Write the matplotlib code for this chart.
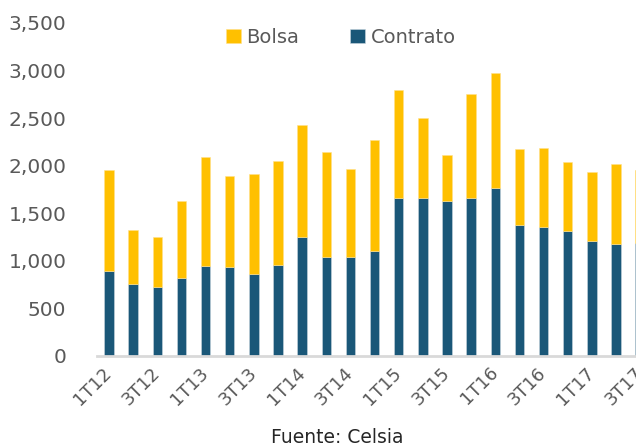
import numpy as np
import matplotlib
matplotlib.use("Agg")
from matplotlib import pyplot as plt

# quarters 1T12 .. 3T17
quarters = ['1T12', '2T12', '3T12', '4T12', '1T13', '2T13', '3T13', '4T13',
            '1T14', '2T14', '3T14', '4T14', '1T15', '2T15', '3T15', '4T15',
            '1T16', '2T16', '3T16', '4T16', '1T17', '2T17', '3T17']

contrato = [890, 755, 720, 815, 950, 935, 865, 960,
            1250, 1040, 1045, 1100, 1660, 1665, 1625, 1665,
            1765, 1375, 1360, 1310, 1210, 1175, 1190]

total = [1960, 1320, 1255, 1630, 2095, 1890, 1915, 2050,
         2430, 2145, 1965, 2270, 2800, 2500, 2115, 2755,
         2975, 2175, 2185, 2040, 1935, 2020, 1960]

bolsa = [t - c for t, c in zip(total, contrato)]

yticks = [0, 500, 1000, 1500, 2000, 2500, 3000, 3500]

BLUE = '#1a5778'
YELLOW = '#ffc000'
GRAY = '#595959'

fig = plt.figure(figsize=(6.36, 4.47), dpi=100)
# axes runs past the right edge of the figure, as in the source (last bar is cut)
ax = fig.add_axes([0.1524, 0.2036, 0.873, 0.745])

x = np.arange(len(quarters))
ax.bar(x, contrato, width=0.39, color=BLUE, edgecolor='#c9d6de', linewidth=0.4,
       label='Contrato', zorder=2)
ax.bar(x, bolsa, bottom=contrato, width=0.39, color=YELLOW, edgecolor='#ffe08a',
       linewidth=0.4, label='Bolsa', zorder=2)

ax.set_xlim(-0.5, len(quarters) - 0.5)
ax.set_ylim(0, 3500)
ax.set_yticks(yticks)
ax.set_yticklabels([f'{v:,}' for v in yticks], color=GRAY, fontsize=14.5)

ax.set_xticks(x[::2])
ax.set_xticklabels(quarters[::2], rotation=45, ha='right', va='center',
                   rotation_mode='anchor', color=GRAY, fontsize=13)

for s in ['top', 'right', 'left']:
    ax.spines[s].set_visible(False)
ax.spines['bottom'].set_color('#d9d9d9')
ax.spines['bottom'].set_linewidth(2)
ax.tick_params(axis='both', length=0)
ax.tick_params(axis='y', pad=22)
ax.tick_params(axis='x', pad=10)

handles, labels = ax.get_legend_handles_labels()
fig.legend(handles[::-1], labels[::-1], loc='center', bbox_to_anchor=(0.536, 0.917),
           ncol=2, frameon=False, fontsize=14, handlelength=0.75, handleheight=0.75,
           columnspacing=2.6, handletextpad=0.3, labelcolor=GRAY)

fig.text(0.53, 0.022, 'Fuente: Celsia', ha='center', va='center',
         fontsize=13.5, color='#262626')

fig.savefig('out.png', dpi=100)
